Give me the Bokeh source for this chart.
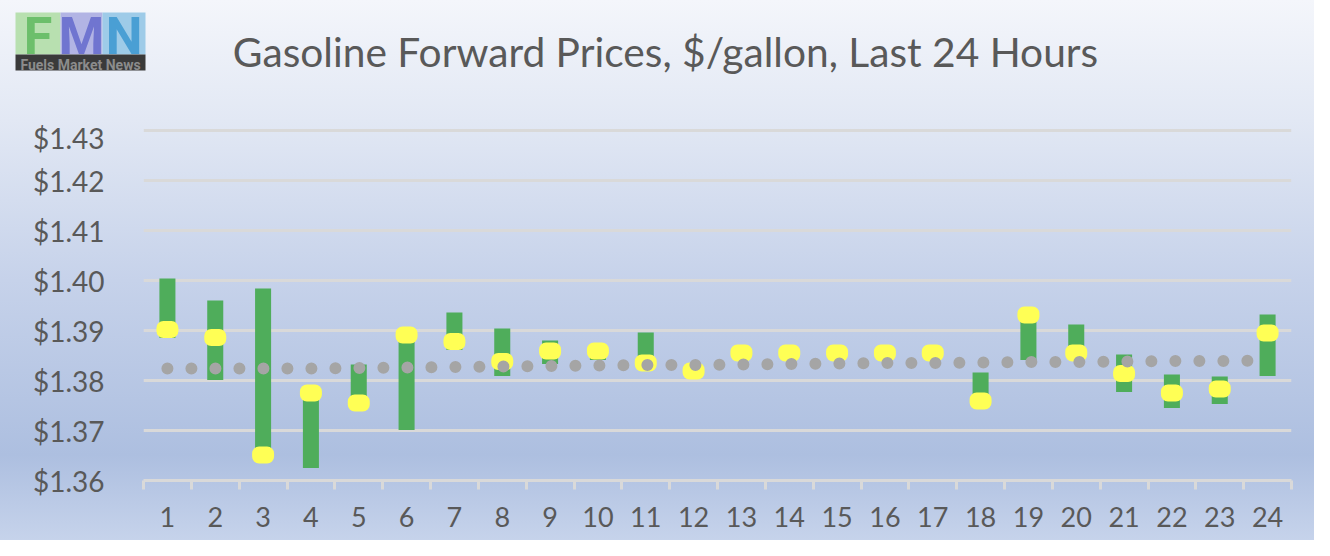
from bokeh.plotting import figure
from bokeh.layouts import column
from bokeh.models import FixedTicker, Label, BoxAnnotation, ColumnDataSource, NumeralTickFormatter
from bokeh.embed import file_html
from bokeh.resources import INLINE

# ---- data ----
hours = list(range(1, 25))
high = [1.4004, 1.3960, 1.3984, 1.3778, 1.3832, 1.3893, 1.3936, 1.3904, 1.3880, 1.3862,
        1.3896, 1.3822, 1.3858, 1.3858, 1.3858, 1.3858, 1.3858, 1.3816, 1.3935, 1.3912,
        1.3852, 1.3812, 1.3808, 1.3932]
low = [1.3885, 1.3801, 1.3648, 1.3625, 1.3752, 1.3701, 1.3861, 1.3809, 1.3833, 1.3841,
       1.3830, 1.3812, 1.3852, 1.3852, 1.3852, 1.3852, 1.3852, 1.3745, 1.3841, 1.3848,
       1.3777, 1.3745, 1.3753, 1.3809]
close = [1.3902, 1.3886, 1.3651, 1.3775, 1.3755, 1.3891, 1.3878, 1.3838, 1.3859, 1.3859,
         1.3835, 1.3819, 1.3855, 1.3855, 1.3855, 1.3855, 1.3855, 1.3759, 1.3931, 1.3855,
         1.3814, 1.3775, 1.3783, 1.3895]
avg = [1.3824, 1.3824, 1.3824, 1.3824, 1.3825, 1.3826, 1.3827, 1.3828, 1.3829, 1.3830,
       1.3831, 1.3831, 1.3832, 1.3833, 1.3834, 1.3835, 1.3835, 1.3836, 1.3837, 1.3837,
       1.3838, 1.3839, 1.3839, 1.3840]
y_ticks = [1.36, 1.37, 1.38, 1.39, 1.40, 1.41, 1.42, 1.43]
title_text = "Gasoline Forward Prices, $/gallon, Last 24 Hours"
logo_letters = ["F", "M", "N"]
logo_caption = "Fuels Market News"

FONT = "Lato"
TXT = "#595959"
GRID = "#d9d9d9"
W = 1314
HEAD_H = 120
MAIN_H = 420

# ---------------- header (logo + title) ----------------
head = figure(width=W, height=HEAD_H, output_backend="svg", toolbar_location=None,
              x_range=(0, W), y_range=(0, HEAD_H), x_axis_type=None, y_axis_type=None,
              min_border=0, frame_align=False)
head.grid.visible = False
head.background_fill_color = None
head.border_fill_color = None
head.outline_line_color = None
head.styles = {"background": "linear-gradient(180deg, #f4f6fb 0px, #e2e8f4 120px)"}

head.add_layout(Label(x=665, y=69, x_units="screen", y_units="screen", text=title_text,
                      text_align="center", text_baseline="alphabetic", text_font=FONT,
                      text_font_size="40.7px", text_color=TXT))

logo_cols = [("#b8e0b0", "#6cbf6b"), ("#b2b4e4", "#7075d0"), ("#9ecbe8", "#4a9fd4")]
edges = [15, 60, 102, 145]
for i, ch in enumerate(logo_letters):
    bg, fg = logo_cols[i]
    l, r = edges[i], edges[i + 1]
    head.add_layout(BoxAnnotation(left=l, right=r, bottom=66, top=108,
                                  left_units="screen", right_units="screen",
                                  bottom_units="screen", top_units="screen",
                                  fill_color=bg, fill_alpha=1, line_color=None))
    head.add_layout(Label(x=(l + r) / 2, y=84, x_units="screen", y_units="screen", text=ch,
                          text_align="center", text_baseline="alphabetic", text_font="Roboto",
                          text_font_style="bold", text_font_size="52px", text_color=fg))
head.add_layout(BoxAnnotation(left=15, right=145, bottom=50, top=66,
                              left_units="screen", right_units="screen",
                              bottom_units="screen", top_units="screen",
                              fill_color="#3a3a3a", fill_alpha=1, line_color=None))
head.add_layout(Label(x=80, y=56, x_units="screen", y_units="screen", text=logo_caption,
                      text_align="center", text_baseline="alphabetic", text_font="Roboto",
                      text_font_style="bold", text_font_size="14px", text_color="#8c8c8c"))

# ---------------- main chart ----------------
src = ColumnDataSource(dict(x=hours, high=high, low=low, close=close, avg=avg))

p = figure(width=W, height=MAIN_H, output_backend="svg", toolbar_location=None,
           x_range=(0.5, 24.5), y_range=(1.36, 1.4304), frame_align=False,
           min_border_left=143, min_border_right=23, min_border_top=8, min_border_bottom=60)
p.background_fill_color = None
p.border_fill_color = None
p.outline_line_color = None
p.styles = {"background": "linear-gradient(180deg, #e2e8f4 0px, #c6d2ea 160px, #adbfe0 335px, #c6d3eb 420px)"}

p.xgrid.visible = False
p.ygrid.ticker = FixedTicker(ticks=y_ticks)
p.ygrid.grid_line_color = GRID
p.ygrid.grid_line_width = 3

p.yaxis.ticker = FixedTicker(ticks=y_ticks)
p.yaxis.formatter = NumeralTickFormatter(format="$0.00")
p.yaxis.axis_line_color = None
p.yaxis.major_tick_line_color = None
p.yaxis.minor_tick_line_color = None
p.yaxis.major_label_standoff = 33
p.yaxis.major_label_text_font = FONT
p.yaxis.major_label_text_font_size = "28px"
p.yaxis.major_label_text_color = TXT

p.xaxis.ticker = FixedTicker(ticks=hours, minor_ticks=[h - 0.5 for h in hours] + [24.5])
p.xaxis.major_tick_line_color = None
p.xaxis.major_tick_out = 0
p.xaxis.minor_tick_out = 9
p.xaxis.minor_tick_in = 0
p.xaxis.minor_tick_line_color = GRID
p.xaxis.minor_tick_line_width = 3
p.xaxis.axis_line_color = GRID
p.xaxis.axis_line_width = 3
p.xaxis.major_label_standoff = 17
p.xaxis.major_label_text_font = FONT
p.xaxis.major_label_text_font_size = "27px"
p.xaxis.major_label_text_color = TXT

p.vbar(x="x", top="high", bottom="low", width=0.335, source=src,
       fill_color="#4fad5b", line_color=None)
p.rect(x="x", y="close", width=22, height=17, width_units="screen", height_units="screen",
       border_radius=7, source=src, fill_color="#ffff55", line_color=None)
p.line(x="x", y="avg", source=src, line_color="#a5a5a5", line_width=12,
       line_dash="0 24", line_cap="round")

layout = column(head, p, spacing=0)
open("out.html", "w").write(file_html(layout, INLINE))
